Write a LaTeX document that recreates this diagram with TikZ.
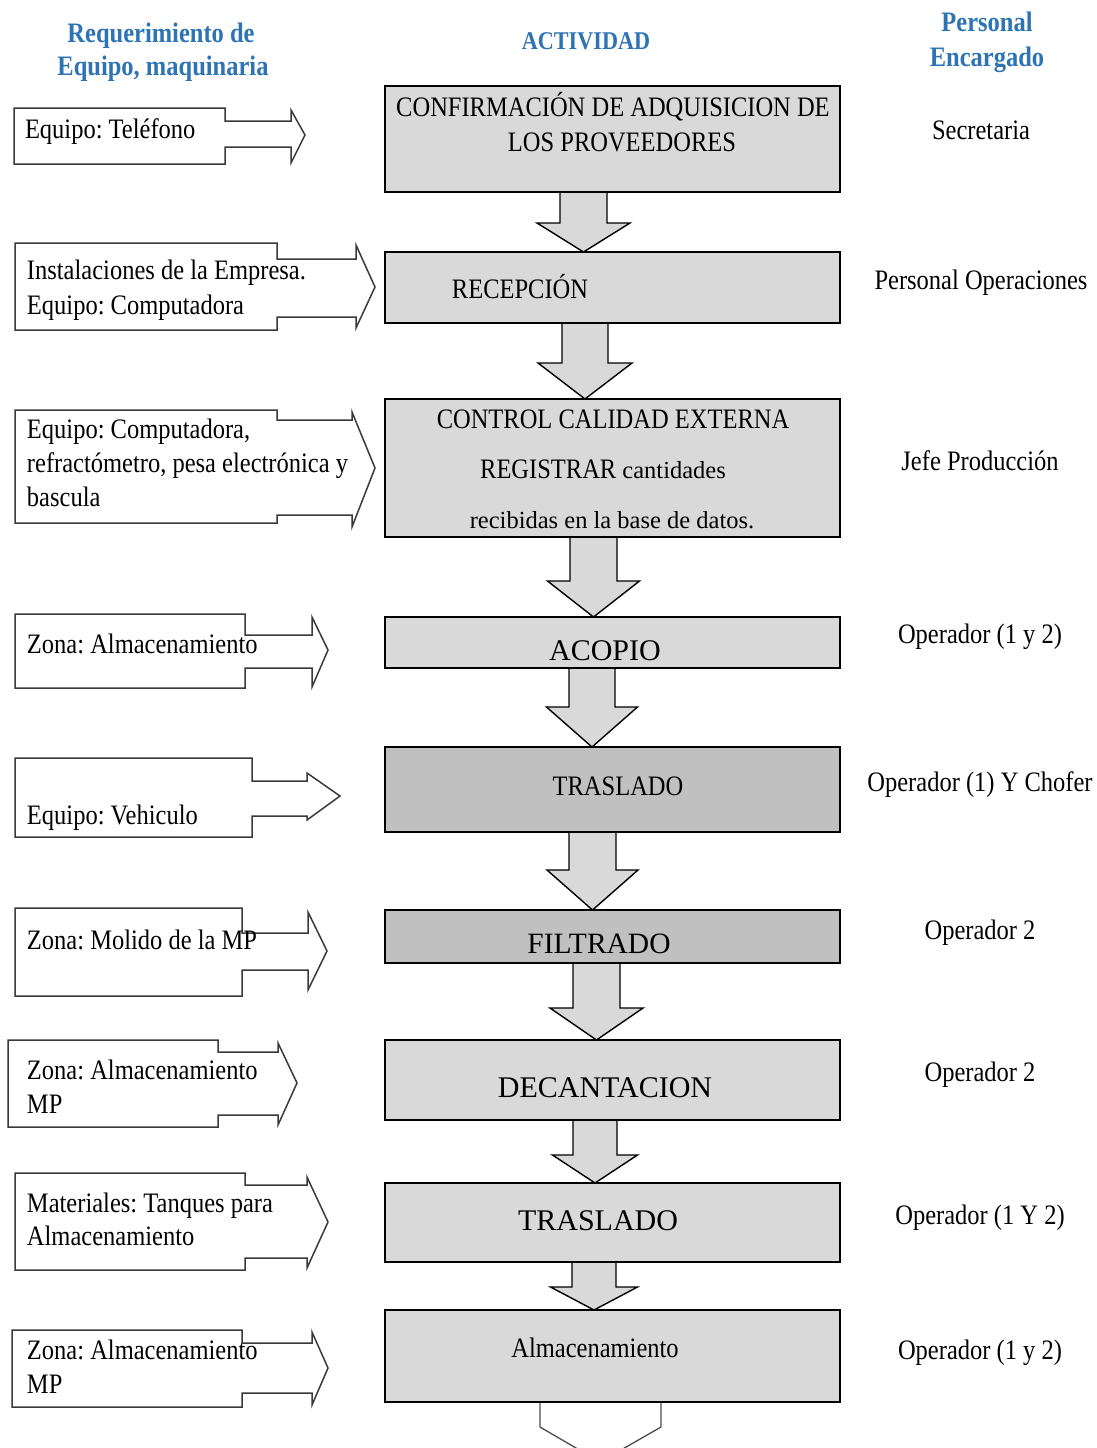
\documentclass[tikz,border=0pt]{standalone}
\usepackage{fontspec}
\setmainfont{Liberation Serif}
\usepackage{graphicx}
\usetikzlibrary{calc}
\pgfdeclarelayer{bg}
\pgfsetlayers{bg,main}
\definecolor{boxgray}{HTML}{D9D9D9}
\definecolor{boxdark}{HTML}{C0C0C0}
\definecolor{hdrblue}{HTML}{2E74B5}
\definecolor{edgegray}{HTML}{3A3A3A}
\frenchspacing
% slightly tall lettering
\newcommand\tall[1]{\scalebox{1}[1.15]{#1}}
% block arrow between two activity boxes:
% #1 from, #2 to, #3 centre x, #4 shaft half width, #5 head half width, #6 head height
\newcommand\flowarrow[6]{%
  \begin{pgfonlayer}{bg}
  \draw[blockarrow] let \p1=(#1.south), \p2=(#2.north) in
    (#3pt-#4pt,\y1) -- (#3pt-#4pt,\y2+#6pt) -- (#3pt-#5pt,\y2+#6pt) -- (#3pt,\y2)
    -- (#3pt+#5pt,\y2+#6pt) -- (#3pt+#4pt,\y2+#6pt) -- (#3pt+#4pt,\y1) -- cycle;
  \end{pgfonlayer}}

\begin{document}
\begin{tikzpicture}[x=1pt,y=-1pt,
  every node/.style={inner sep=0pt, outer sep=0pt},
  cond/.style={font=\fontsize{24.5}{30}\selectfont},
  plain/.style={font=\fontsize{30}{36}\selectfont},
  hdr/.style={font=\fontsize{24.5}{30}\selectfont\bfseries, text=hdrblue},
  actbox/.style={draw=black, line width=1.6pt, fill=boxgray, rectangle,
    minimum width=455pt, anchor=north west},
  darkbox/.style={actbox, fill=boxdark},
  blockarrow/.style={draw=black, line width=1.4pt, fill=boxgray, line join=miter},
  reqshape/.style={draw=edgegray, line width=1.5pt, fill=white, line join=miter},
  reqtxt/.style={cond, anchor=base west},
  staff/.style={cond, anchor=base}]

% page
\begin{pgfonlayer}{bg}
\fill[white] (0,0) rectangle (1096,1448);
\end{pgfonlayer}
\useasboundingbox (0,0) rectangle (1096,1448);

% column headings
\node[hdr, anchor=base] (h1a) at (161,42) {\tall{Requerimiento de}};
\node[hdr, anchor=base] (h1b) at (163,75) {\tall{Equipo, maquinaria}};
\node[hdr, anchor=base, font=\fontsize{22.2}{28}\selectfont\bfseries] (h2) at (586,49) {\tall{ACTIVIDAD}};
\node[hdr, anchor=base] (h3a) at (987,31) {\tall{Personal}};
\node[hdr, anchor=base] (h3b) at (987,66) {\tall{Encargado}};

% activity boxes
\node[actbox, minimum height=106pt] (b1) at (385,86) {};
\node[actbox, minimum height=71pt]  (b2) at (385,252) {};
\node[actbox, minimum height=138pt] (b3) at (385,399) {};
\node[actbox, minimum height=51pt]  (b4) at (385,617) {};
\node[darkbox, minimum height=85pt] (b5) at (385,747) {};
\node[darkbox, minimum height=53pt] (b6) at (385,910) {};
\node[actbox, minimum height=80pt]  (b7) at (385,1040) {};
\node[actbox, minimum height=79pt]  (b8) at (385,1183) {};
\node[actbox, minimum height=92pt]  (b9) at (385,1310) {};

% activity labels
\node[cond, anchor=base] (t1a) at (613,116) {\tall{CONFIRMACIÓN DE ADQUISICION DE}};
\node[cond, anchor=base] (t1b) at (622,151) {\tall{LOS PROVEEDORES}};
\node[cond, anchor=base] (t2)  at (520,298) {\tall{RECEPCIÓN}};
\node[cond, anchor=base] (t3a) at (613,428) {\tall{CONTROL CALIDAD EXTERNA}};
\node[cond, anchor=base] (t3b) at (603,478) {\tall{REGISTRAR} cantidades};
\node[cond, anchor=base] (t3c) at (612,528) {recibidas en la base de datos.};
\node[plain, anchor=base] (t4) at (605,660) {ACOPIO};
\node[cond, anchor=base]  (t5) at (618,795) {\tall{TRASLADO}};
\node[plain, anchor=base, font=\fontsize{29.5}{36}\selectfont] (t6) at (599,953) {FILTRADO};
\node[plain, anchor=base] (t7) at (605,1097) {DECANTACION};
\node[plain, anchor=base] (t8) at (598,1230) {TRASLADO};
\node[cond, anchor=base]  (t9) at (595,1357) {\tall{Almacenamiento}};

% block arrows between activities
\flowarrow{b1}{b2}{583.5}{23.5}{46.5}{29}
\flowarrow{b2}{b3}{585}{23}{47}{36}
\flowarrow{b3}{b4}{593.5}{23.5}{46}{36}
\flowarrow{b4}{b5}{592}{23}{45.5}{40}
\flowarrow{b5}{b6}{592.5}{23.5}{45.5}{40}
\flowarrow{b6}{b7}{596.5}{23.5}{46.5}{32}
\flowarrow{b7}{b8}{595}{22}{42.5}{28}
\flowarrow{b8}{b9}{594}{22}{43.5}{23}

% outgoing arrow below the last activity
\coordinate (out) at (600,1462);
\begin{pgfonlayer}{bg}
\begin{scope}
\clip (0,0) rectangle (1096,1448);
\draw[reqshape, draw=black!70, line width=1.3pt] let \p1=(b9.south), \p2=(out) in
  (540pt,\y1) -- (540pt,\y1-25pt) -- (\x2,\y2) -- (661pt,\y1-25pt) -- (661pt,\y1);
\end{scope}
\end{pgfonlayer}

% equipment / machinery requirements
\draw[reqshape] (14,108) -- (225,108) -- (225,121) -- (291,121) -- (291,110) -- (305,135)
  -- (291,163) -- (291,147) -- (225,147) -- (225,164) -- (14,164) -- cycle;
\draw[reqshape] (15,243) -- (277,243) -- (277,259) -- (356,259) -- (356,245) -- (375,287)
  -- (356,328) -- (356,317) -- (277,317) -- (277,330) -- (15,330) -- cycle;
\draw[reqshape] (15,410) -- (277,410) -- (277,420) -- (352,420) -- (352,412) -- (375,468)
  -- (352,527) -- (352,515) -- (277,515) -- (277,523) -- (15,523) -- cycle;
\draw[reqshape] (15,614) -- (245,614) -- (245,635) -- (312,635) -- (312,617) -- (328,650)
  -- (312,687) -- (312,668) -- (245,668) -- (245,688) -- (15,688) -- cycle;
\draw[reqshape] (15,758) -- (252,758) -- (252,781) -- (307,781) -- (307,773) -- (340,796)
  -- (307,820) -- (307,816) -- (252,816) -- (252,837) -- (15,837) -- cycle;
\draw[reqshape] (15,908) -- (242,908) -- (242,933) -- (308,933) -- (308,912) -- (327,951)
  -- (308,990) -- (308,970) -- (242,970) -- (242,996) -- (15,996) -- cycle;
\draw[reqshape] (8,1040) -- (218,1040) -- (218,1052) -- (278,1052) -- (278,1043) -- (297,1083)
  -- (278,1125) -- (278,1115) -- (218,1115) -- (218,1127) -- (8,1127) -- cycle;
\draw[reqshape] (15,1173) -- (245,1173) -- (245,1185) -- (307,1185) -- (307,1177) -- (328,1222)
  -- (307,1268) -- (307,1258) -- (245,1258) -- (245,1270) -- (15,1270) -- cycle;
\draw[reqshape] (12,1330) -- (242,1330) -- (242,1343) -- (312,1343) -- (312,1332) -- (328,1368)
  -- (312,1405) -- (312,1393) -- (242,1393) -- (242,1407) -- (12,1407) -- cycle;

\node[reqtxt] (r1)  at (25,138)  {\tall{Equipo: Teléfono}};
\node[reqtxt] (r2a) at (27,279)  {\tall{Instalaciones de la Empresa.}};
\node[reqtxt] (r2b) at (27,314)  {\tall{Equipo: Computadora}};
\node[reqtxt] (r3a) at (27,438)  {\tall{Equipo: Computadora,}};
\node[reqtxt] (r3b) at (27,472)  {\tall{refractómetro, pesa electrónica y}};
\node[reqtxt] (r3c) at (27,506)  {\tall{bascula}};
\node[reqtxt] (r4)  at (27,653)  {\tall{Zona: Almacenamiento}};
\node[reqtxt] (r5)  at (27,824)  {\tall{Equipo: Vehiculo}};
\node[reqtxt] (r6)  at (27,949)  {\tall{Zona: Molido de la MP}};
\node[reqtxt] (r7a) at (27,1079) {\tall{Zona: Almacenamiento}};
\node[reqtxt] (r7b) at (27,1113) {\tall{MP}};
\node[reqtxt] (r8a) at (27,1212) {\tall{Materiales: Tanques para}};
\node[reqtxt] (r8b) at (27,1245) {\tall{Almacenamiento}};
\node[reqtxt] (r9a) at (27,1359) {\tall{Zona: Almacenamiento}};
\node[reqtxt] (r9b) at (27,1393) {\tall{MP}};

% staff in charge
\node[staff] (s1) at (981,139)  {\tall{Secretaria}};
\node[staff] (s2) at (981,289)  {\tall{Personal Operaciones}};
\node[staff] (s3) at (980,470)  {\tall{Jefe Producción}};
\node[staff] (s4) at (980,643)  {\tall{Operador (1 y 2)}};
\node[staff] (s5) at (980,791)  {\tall{Operador (1) Y Chofer}};
\node[staff] (s6) at (980,939)  {\tall{Operador 2}};
\node[staff] (s7) at (980,1081) {\tall{Operador 2}};
\node[staff] (s8) at (980,1224) {\tall{Operador (1 Y 2)}};
\node[staff] (s9) at (980,1359) {\tall{Operador (1 y 2)}};
\end{tikzpicture}
\end{document}
